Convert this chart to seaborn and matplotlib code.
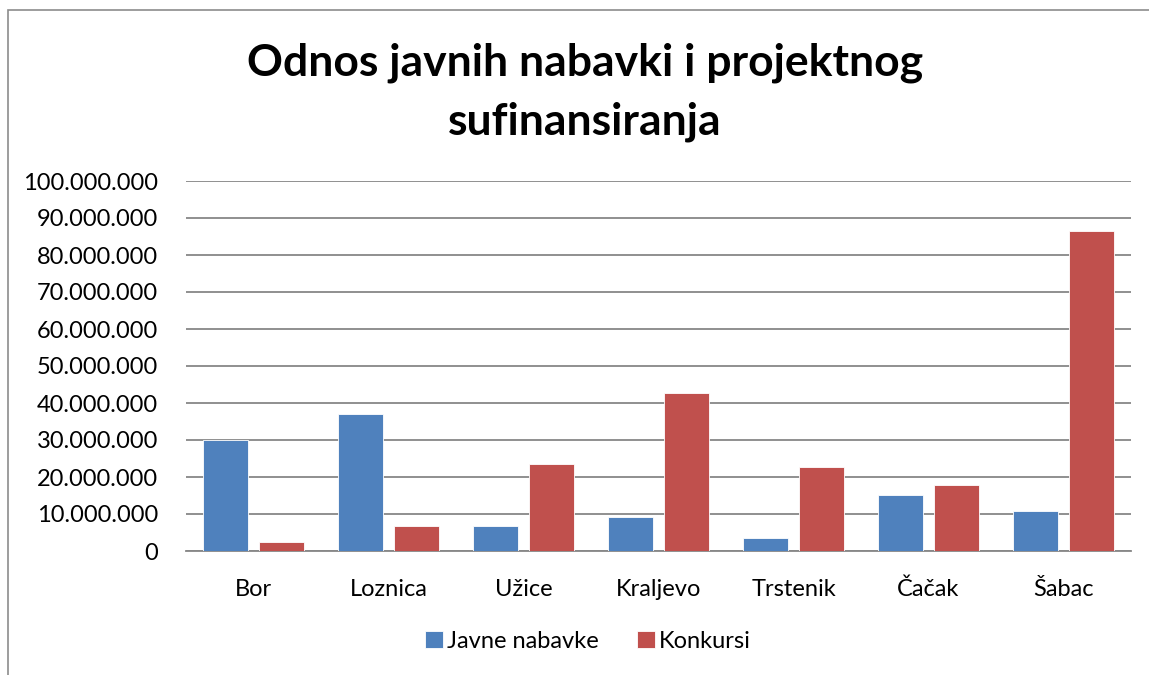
import pandas as pd
import matplotlib
matplotlib.use("Agg")
import matplotlib.pyplot as plt
import seaborn as sns
from matplotlib.ticker import FuncFormatter, MultipleLocator
from matplotlib.patches import Rectangle

# podaci (procijenjeni sa slike)
gradovi = ["Bor", "Loznica", "Užice", "Kraljevo", "Trstenik", "Čačak", "Šabac"]
javne_nabavke = [30.0e6, 37.0e6, 6.8e6, 9.1e6, 3.5e6, 15.2e6, 10.7e6]
konkursi = [2.4e6, 6.7e6, 23.4e6, 42.7e6, 22.7e6, 17.8e6, 86.6e6]
serije = ["Javne nabavke", "Konkursi"]

BLUE = "#4F81BD"
RED = "#C0504D"
GRID = "#878787"

df = pd.DataFrame({
    "grad": gradovi * 2,
    "iznos": javne_nabavke + konkursi,
    "serija": [serije[0]] * len(gradovi) + [serije[1]] * len(gradovi),
})

sns.set_theme(style="white")
plt.rcParams["font.family"] = ["Lato", "DejaVu Sans"]
plt.rcParams["text.color"] = "black"

fig = plt.figure(figsize=(11.49, 6.75), dpi=100)
ax = fig.add_axes([186 / 1149, 1 - 551 / 675, (1131 - 186) / 1149, (551 - 181) / 675])

sns.barplot(
    data=df, x="grad", y="iznos", hue="serija",
    palette=[BLUE, RED], saturation=1, width=0.83, gap=0.2,
    edgecolor="white", linewidth=0.6, ax=ax, zorder=3,
)

ax.set_ylim(0, 100e6)
ax.set_xlim(-0.5, len(gradovi) - 0.5)
ax.yaxis.set_major_locator(MultipleLocator(10e6))
ax.yaxis.set_major_formatter(FuncFormatter(lambda v, p: f"{int(v):,}".replace(",", ".")))
ax.grid(axis="y", color=GRID, linewidth=1.3, zorder=0)
ax.set_axisbelow(True)

for s in ["top", "right", "left"]:
    ax.spines[s].set_visible(False)
ax.spines["bottom"].set_color(GRID)
ax.spines["bottom"].set_linewidth(1.3)

ax.tick_params(axis="y", length=0, pad=20, labelsize=17, labelcolor="black")
ax.tick_params(axis="x", length=0, pad=20, labelsize=17, labelcolor="black")
ax.set_xlabel("")
ax.set_ylabel("")

leg = ax.legend(
    loc="center", bbox_to_anchor=(588 / 1149, 1 - 641 / 675),
    bbox_transform=fig.transFigure, ncol=2, frameon=False,
    fontsize=17, handlelength=0.75, handleheight=0.75,
    handletextpad=0.2, columnspacing=1.6,
)
for t in leg.get_texts():
    t.set_color("black")

fig.text(585 / 1149, 1 - 63 / 675, "Odnos javnih nabavki i projektnog",
         ha="center", va="center", fontsize=32, fontweight="bold", color="black")
fig.text(585 / 1149, 1 - 122 / 675, "sufinansiranja",
         ha="center", va="center", fontsize=32, fontweight="bold", color="black")

# okvir grafikona
fig.patches.append(Rectangle((8 / 1149, -0.1), 1.2, 1 - 10 / 675 + 0.1,
                             transform=fig.transFigure, fill=False,
                             edgecolor="#8C8C8C", linewidth=1.2))

fig.savefig("out.png", dpi=100)
